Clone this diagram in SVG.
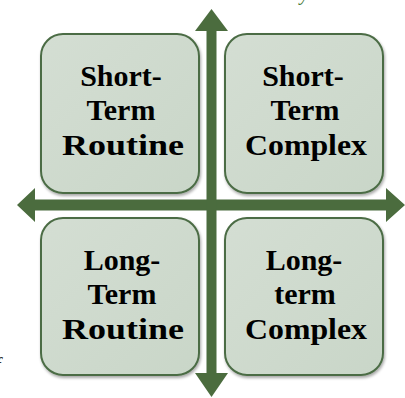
<svg xmlns="http://www.w3.org/2000/svg" width="405" height="398" viewBox="0 0 405 398">
<defs>
<linearGradient id="boxfill" x1="0" y1="0" x2="1" y2="1">
<stop offset="0" stop-color="#d4ded3"/>
<stop offset="1" stop-color="#c9d6c8"/>
</linearGradient>
<filter id="shadow" x="-10%" y="-10%" width="125%" height="125%">
<feGaussianBlur in="SourceAlpha" stdDeviation="1.5"/>
<feOffset dx="1" dy="2" result="b"/>
<feComponentTransfer><feFuncA type="linear" slope="0.35"/></feComponentTransfer>
<feMerge><feMergeNode/><feMergeNode in="SourceGraphic"/></feMerge>
</filter>
</defs>
<style>
.box{fill:url(#boxfill);stroke:#4b6c45;stroke-width:2;filter:url(#shadow)}
.lbl{font-family:"Liberation Serif",serif;font-weight:bold;font-size:30px;fill:#000;text-anchor:middle}
.arrow{fill:#4b6c3e}
.frag{font-family:"Liberation Serif",serif;font-style:italic;font-size:20px}
</style>
<rect width="405" height="398" fill="#fff"/>
<text class="frag" x="300" y="0" fill="#4b7a3e">y</text>
<text class="frag" x="-5" y="372" fill="#333">f</text>
<g id="node-short-term-routine">
<rect class="box" x="41" y="34" width="158" height="159" rx="22"/>
<text class="lbl" x="121" y="86">Short-</text>
<text class="lbl" x="121" y="120">Term</text>
<text class="lbl" x="123" y="155" textLength="122" lengthAdjust="spacingAndGlyphs">Routine</text>
</g>
<g id="node-short-term-complex">
<rect class="box" x="225" y="34" width="158" height="159" rx="22"/>
<text class="lbl" x="303" y="86">Short-</text>
<text class="lbl" x="305" y="120">Term</text>
<text class="lbl" x="306" y="155" textLength="122" lengthAdjust="spacingAndGlyphs">Complex</text>
</g>
<g id="node-long-term-routine">
<rect class="box" x="41" y="218" width="158" height="157" rx="22"/>
<text class="lbl" x="122" y="270">Long-</text>
<text class="lbl" x="122" y="304">Term</text>
<text class="lbl" x="123" y="339" textLength="122" lengthAdjust="spacingAndGlyphs">Routine</text>
</g>
<g id="node-long-term-complex">
<rect class="box" x="225" y="218" width="158" height="157" rx="22"/>
<text class="lbl" x="304" y="270">Long-</text>
<text class="lbl" x="305" y="304">term</text>
<text class="lbl" x="306" y="339" textLength="122" lengthAdjust="spacingAndGlyphs">Complex</text>
</g>
<g id="connectors">
<polygon class="arrow" points="17,205 35,188 35,199.5 386,199.5 386,188 405,205 386,222 386,210.5 35,210.5 35,222"/>
<polygon class="arrow" points="211.5,9 228,31 216.5,31 216.5,373 228,373 211.5,397 195,373 206.5,373 206.5,31 195,31"/>
</g>
</svg>
